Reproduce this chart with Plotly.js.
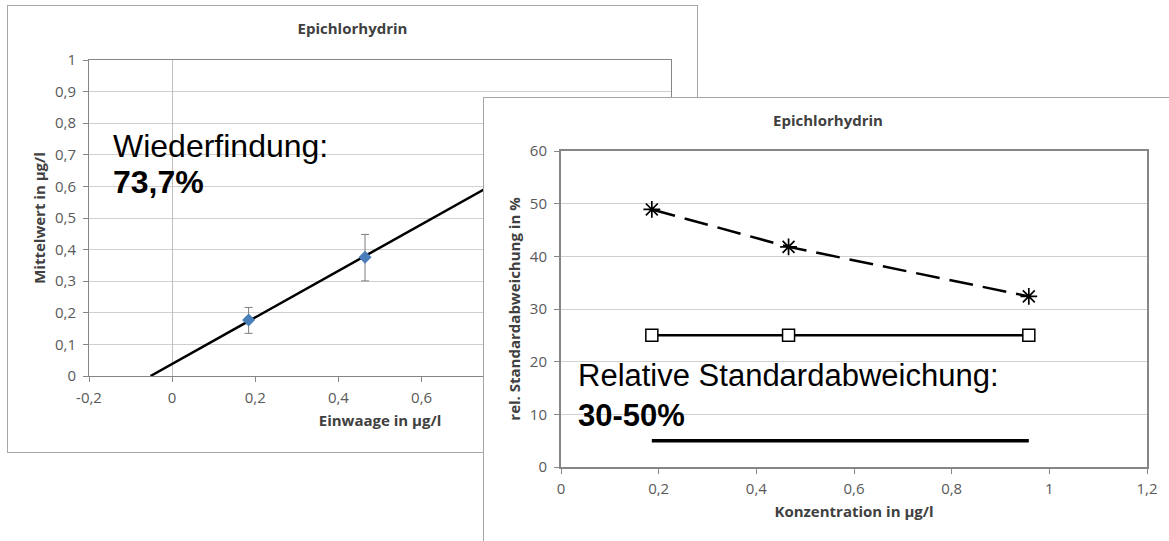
<!DOCTYPE html>
<html>
<head>
<meta charset="utf-8">
<script src="https://cdn.plot.ly/plotly-3.0.1.min.js"></script>
<style>
  html, body { margin: 0; padding: 0; background: #ffffff; }
  body { width: 1169px; height: 541px; overflow: hidden; position: relative; }
  .frame { position: absolute; box-sizing: border-box; border: 1px solid #a6a6a6; background: #ffffff; }
  #leftFrame { left: 7px; top: 5px; width: 691px; height: 448px; }
  #rightFrame { left: 483px; top: 97px; width: 690px; height: 460px; }
  .plot { position: absolute; left: 0; top: 0; }
</style>
</head>
<body>
<div id="leftFrame" class="frame"><div id="leftChart" class="plot"></div></div>
<div id="rightFrame" class="frame"><div id="rightChart" class="plot"></div></div>
<script>
// ---------- data: left chart (Wiederfindung) ----------
const chartTitle = "Epichlorhydrin";
const einwaage = [0.184, 0.464];
const mittelwert = [0.177, 0.376];
const errPlus = [0.040, 0.072];
const errMinus = [0.042, 0.075];
const trendX = [-0.052, 0.96];
const trendY = [0.0, 0.745];
// only the tick labels that are not covered by the right chart
const leftXTickVals = [-0.2, 0, 0.2, 0.4, 0.6];
const leftXTickText = ["-0,2", "0", "0,2", "0,4", "0,6"];
const leftYTickVals = [0, 0.1, 0.2, 0.3, 0.4, 0.5, 0.6, 0.7, 0.8, 0.9, 1];
const leftYTickText = ["0", "0,1", "0,2", "0,3", "0,4", "0,5", "0,6", "0,7", "0,8", "0,9", "1"];

// ---------- data: right chart (rel. Standardabweichung) ----------
const konzentration = [0.186, 0.466, 0.958];
const relStdAbw = [48.9, 41.8, 32.4];
const limitUpper = [25, 25, 25];
const limitLower = [5, 5, 5];
const rightXTickVals = [0, 0.2, 0.4, 0.6, 0.8, 1, 1.2];
const rightXTickText = ["0", "0,2", "0,4", "0,6", "0,8", "1", "1,2"];
const rightYTickVals = [0, 10, 20, 30, 40, 50, 60];
const rightYTickText = ["0", "10", "20", "30", "40", "50", "60"];

const tickFont = {family: "Open Sans, sans-serif", size: 15, color: "#595959"};
const titleFont = {family: "Open Sans, sans-serif", size: 15, color: "#404040", weight: "bold"};
const bigFont = {family: "Liberation Sans, Arial, sans-serif", size: 32, color: "#000000"};
const bigFontRight = {family: "Liberation Sans, Arial, sans-serif", size: 31, color: "#000000"};

// ---------- left chart ----------
const leftTraces = [
  {x: trendX, y: trendY, mode: "lines", line: {color: "#000000", width: 2.5}, hoverinfo: "skip"},
  {x: einwaage, y: mittelwert, mode: "markers",
   marker: {symbol: "diamond", size: 10, color: "#4a7ebb"},
   error_y: {type: "data", symmetric: false, array: errPlus, arrayminus: errMinus,
             color: "#7f7f7f", thickness: 1, width: 4}}
];
const leftLayout = {
  width: 689, height: 446,
  margin: {l: 81, r: 26, t: 54, b: 76},
  paper_bgcolor: "rgba(0,0,0,0)", plot_bgcolor: "#ffffff",
  showlegend: false,
  title: {text: "<b>" + chartTitle + "</b>", font: titleFont, x: 0.5, xref: "container",
          y: 0.948, yref: "container", yanchor: "middle"},
  xaxis: {range: [-0.2, 1.2], tickvals: leftXTickVals, ticktext: leftXTickText,
          showgrid: false, zeroline: true, zerolinecolor: "#bfbfbf", zerolinewidth: 1,
          ticks: "outside", ticklen: 5, tickcolor: "#868686", tickfont: tickFont,
          ticklabelstandoff: 3,
          showline: true, linecolor: "#868686", linewidth: 1, mirror: true,
          title: {text: "<b>Einwaage in µg/l</b>", font: titleFont, standoff: 9}},
  yaxis: {range: [0, 1], tickvals: leftYTickVals, ticktext: leftYTickText,
          showgrid: true, gridcolor: "#cfcfcf", zeroline: false,
          ticks: "outside", ticklen: 5, tickcolor: "#868686", tickfont: tickFont,
          ticklabelstandoff: 4,
          showline: true, linecolor: "#868686", linewidth: 1, mirror: true,
          title: {text: "<b>Mittelwert in µg/l</b>", font: titleFont, standoff: 5}},
  annotations: [
    {text: "Wiederfindung:", x: -0.143, y: 0.728, xref: "x", yref: "y",
     xanchor: "left", yanchor: "middle", showarrow: false, font: bigFont,
     borderpad: 0, borderwidth: 0},
    {text: "<b>73,7%</b>", x: -0.143, y: 0.614, xref: "x", yref: "y",
     xanchor: "left", yanchor: "middle", showarrow: false, font: bigFont,
     borderpad: 0, borderwidth: 0}
  ]
};
Plotly.newPlot("leftChart", leftTraces, leftLayout, {displayModeBar: false, staticPlot: true});

// ---------- right chart ----------
const rightTraces = [
  {x: konzentration, y: limitLower, mode: "lines", line: {color: "#000000", width: 3.5}},
  {x: konzentration, y: limitUpper, mode: "lines+markers", line: {color: "#000000", width: 2.5},
   marker: {symbol: "square", size: 12, color: "#ffffff", line: {color: "#000000", width: 1.5}}},
  {x: konzentration, y: relStdAbw, mode: "lines+markers",
   line: {color: "#000000", width: 2.5, dash: "24px,10px"},
   marker: {symbol: "asterisk-open", size: 14, color: "#000000", line: {color: "#000000", width: 1.7}}}
];
const rightLayout = {
  width: 688, height: 458,
  margin: {l: 77, r: 25, t: 53, b: 89},
  paper_bgcolor: "#ffffff", plot_bgcolor: "#ffffff",
  showlegend: false,
  title: {text: "<b>" + chartTitle + "</b>", font: titleFont, x: 0.5, xref: "container",
          y: 0.9504, yref: "container", yanchor: "middle"},
  xaxis: {range: [0, 1.2], tickvals: rightXTickVals, ticktext: rightXTickText,
          showgrid: false, zeroline: false,
          ticks: "outside", ticklen: 5, tickcolor: "#868686", tickfont: tickFont,
          ticklabelstandoff: 2,
          showline: true, linecolor: "#868686", linewidth: 2, mirror: true,
          title: {text: "<b>Konzentration in µg/l</b>", font: titleFont, standoff: 9}},
  yaxis: {range: [0, 60], tickvals: rightYTickVals, ticktext: rightYTickText,
          showgrid: true, gridcolor: "#cfcfcf", zeroline: false,
          ticks: "outside", ticklen: 5, tickcolor: "#868686", tickfont: tickFont,
          ticklabelstandoff: 4,
          showline: true, linecolor: "#868686", linewidth: 2, mirror: true,
          title: {text: "<b>rel. Standardabweichung in %</b>", font: titleFont, standoff: 6}},
  annotations: [
    {text: "Relative Standardabweichung:<br><b>30-50%</b>", x: 0.0348, y: 13.6, xref: "x", yref: "y",
     xanchor: "left", yanchor: "middle", align: "left", showarrow: false, font: bigFontRight,
     borderpad: 0, borderwidth: 0}
  ]
};
Plotly.newPlot("rightChart", rightTraces, rightLayout, {displayModeBar: false, staticPlot: true});
</script>
</body>
</html>
